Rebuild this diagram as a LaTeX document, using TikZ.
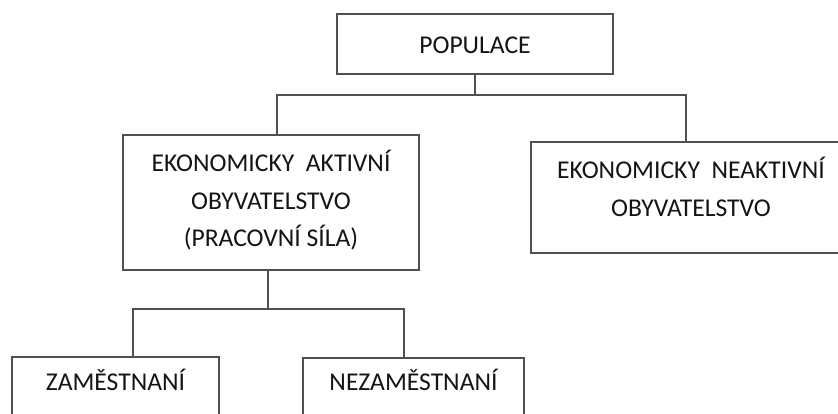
\documentclass[tikz,border=0pt]{standalone}
\usepackage{fontspec}
\setmainfont{Carlito}
\begin{document}
\begin{tikzpicture}[x=1pt,y=-1pt,
  box/.style={draw=linegray, line width=1.6pt, fill=white, minimum width=#1, inner sep=0pt, outer sep=0pt},
  lbl/.style={text=textdark, font=\fontsize{25.6}{37.5}\selectfont, align=center, inner sep=0pt, anchor=base},
  conn/.style={draw=linegray, line width=1.6pt}]
\definecolor{linegray}{HTML}{505050}
\definecolor{textdark}{HTML}{141414}
\useasboundingbox (0,0) rectangle (838,413);
\clip (0,0) rectangle (838,413);
% boxes
\node[box=276pt, minimum height=60pt] (pop) at (475,44) {};
\node[box=296pt, minimum height=135pt] (aktiv) at (271,202.5) {};
\node[box=320pt, minimum height=111pt] (neakt) at (691,197.5) {};
\node[box=207pt, minimum height=100pt] (zam) at (115.5,407) {};
\node[box=221pt, minimum height=100pt] (nezam) at (413.5,408) {};
% labels
\node[lbl] (popT) at (475,53) {POPULACE};
\node[lbl, anchor=north] (aktivT) at (271,150) {EKONOMICKY\ \ AKTIVNÍ\\OBYVATELSTVO\\(PRACOVNÍ SÍLA)};
\node[lbl, anchor=north] (neaktT) at (691,157) {EKONOMICKY\ \ NEAKTIVNÍ\\OBYVATELSTVO};
\node[lbl] (zamT) at (115.5,390) {ZAMĚSTNANÍ};
\node[lbl] (nezamT) at (413.5,390) {NEZAMĚSTNANÍ};
% connectors
\coordinate (busL) at (277,95);
\coordinate (busR) at (686,95);
\coordinate (busM) at (475,95);
\draw[conn] (pop.south) -- (busM);
\draw[conn] (aktiv.north -| busL) -- (busL) -- (busR) -- (neakt.north -| busR);
\coordinate (bus2L) at (133,309);
\coordinate (bus2R) at (404,309);
\coordinate (bus2M) at (268,309);
\draw[conn] (aktiv.south -| bus2M) -- (bus2M);
\draw[conn] (zam.north -| bus2L) -- (bus2L) -- (bus2R) -- (nezam.north -| bus2R);
\end{tikzpicture}
\end{document}
